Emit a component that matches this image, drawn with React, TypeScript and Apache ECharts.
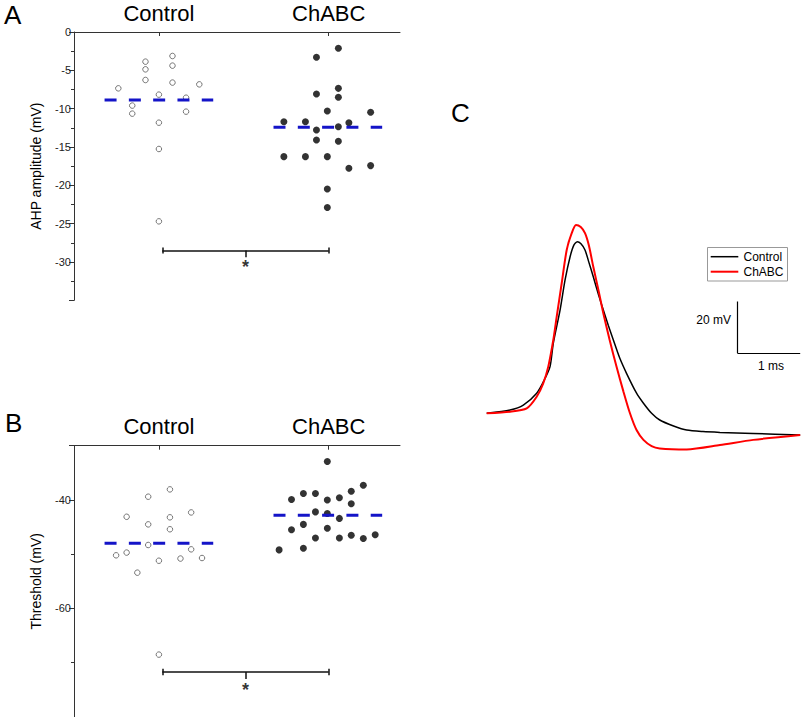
import React, { useEffect, useRef } from 'react';
import * as echarts from 'echarts';

// ---------- data ----------
const groups = ['Control', 'ChABC'];

// Panel A: AHP amplitude (mV), [jittered x position, value]
const ahpControl = [
  [0.761, -7.35], [0.843, -9.6], [0.843, -10.65], [0.921, -3.87], [0.921, -4.87], [0.921, -6.26],
  [1.0, -8.17], [1.0, -11.83], [1.0, -15.26], [1.0, -24.7], [1.08, -3.13], [1.08, -4.39],
  [1.08, -6.6], [1.16, -8.57], [1.16, -10.39], [1.238, -6.83],
];
const ahpChABC = [
  [1.736, -11.7], [1.736, -16.26], [1.863, -11.7], [1.863, -16.26], [1.928, -3.3], [1.928, -8.09],
  [1.928, -12.78], [1.928, -14.09], [1.992, -10.3], [1.992, -16.26], [1.992, -20.48], [1.992, -22.9],
  [2.057, -2.13], [2.057, -7.35], [2.057, -8.52], [2.057, -12.35], [2.057, -14.26], [2.119, -11.83],
  [2.119, -17.78], [2.247, -10.48], [2.247, -17.43],
];
const ahpMeans = [-8.87, -12.43];

// Panel B: Threshold (mV)
const thrControl = [
  [0.748, -50.2], [0.81, -43.1], [0.81, -49.7], [0.873, -53.4], [0.937, -39.4], [0.937, -44.5],
  [0.937, -48.3], [1.0, -51.2], [1.0, -68.5], [1.065, -38.05], [1.065, -43.2], [1.065, -45.4],
  [1.127, -50.8], [1.19, -42.3], [1.19, -49.1], [1.254, -50.7],
];
const thrChABC = [
  [1.708, -49.2], [1.781, -39.9], [1.781, -45.5], [1.851, -38.8], [1.851, -44.5], [1.851, -48.9],
  [1.922, -38.8], [1.922, -42.2], [1.922, -47.0], [1.992, -32.9], [1.992, -40.0], [1.992, -42.5],
  [1.992, -45.2], [2.063, -39.6], [2.063, -43.4], [2.063, -47.0], [2.133, -38.4], [2.133, -40.7],
  [2.133, -46.5], [2.204, -37.3], [2.204, -47.1], [2.274, -46.4],
];
const thrMeans = [-48.0, -42.8];

// significance brackets
const bracketX = [1.02, 2.0];
const bracketMidX = 1.51;
const bracketYA = -28.5;
const bracketYB = -71.7;
const starYA = -30.6;
const starYB = -75.1;

// Panel C: action potential traces, time (ms) and membrane potential (mV)
const ctrlTrace = [
  [0, -65], [0.372, -63.7], [0.584, -61.8], [0.797, -57.2], [0.92, -52.0], [1.01, -46.9],
  [1.062, -37.9], [1.17, -25], [1.25, -13.3], [1.33, -4.3], [1.39, 0.2], [1.445, 1.5],
  [1.5, 0.8], [1.568, -1.7], [1.63, -6.5], [1.70, -12.1], [1.78, -18.8], [1.86, -25],
  [1.94, -31.0], [2.02, -36.6], [2.12, -43.5], [2.23, -49.5], [2.39, -57.2], [2.50, -61.1],
  [2.63, -65.0], [2.76, -67.6], [2.98, -69.9], [3.19, -71.5], [3.45, -72.1], [3.72, -72.4],
  [4.25, -72.8], [5.0, -73.4],
];
const chabcTrace = [
  [0, -65], [0.372, -64.4], [0.638, -63.1], [0.797, -58.6], [0.9, -53.5], [0.982, -46.9],
  [1.062, -36.6], [1.116, -27.6], [1.196, -14.6], [1.276, -1.7], [1.356, 4.8], [1.424, 8.0],
  [1.5, 7.2], [1.568, 4.8], [1.63, 0.0], [1.70, -8.2], [1.78, -17.0], [1.86, -26.2],
  [1.96, -36.5], [2.07, -46.9], [2.18, -56.5], [2.285, -65], [2.39, -71.5], [2.50, -75.3],
  [2.63, -77.7], [2.76, -78.6], [3.19, -79.0], [3.72, -77.3], [4.25, -75.3], [5.0, -73.4],
];
// scale bar: 20 mV vertical, 1 ms horizontal
const scaleOrigin = [4.0, -41.7];
const scaleMv = 20;
const scaleMs = 1;

const FONT = 'Liberation Sans, Arial, sans-serif';
const AXIS_COLOR = '#333';
const DASH_BLUE = '#1414c8';

function meanLine(center: number, value: number) {
  return [[center - 0.32, value], [center + 0.32, value]];
}

function bracketSegments(y: number, cap: number, drop: number) {
  return [
    { coords: [[bracketX[0], y], [bracketX[1], y]] },
    { coords: [[bracketX[0], y + cap], [bracketX[0], y - cap]] },
    { coords: [[bracketX[1], y + cap], [bracketX[1], y - cap]] },
    { coords: [[bracketMidX, y], [bracketMidX, y - drop]] },
  ];
}

function topAxis(gridIndex: number) {
  return {
    type: 'value', gridIndex, position: 'top', min: 0.5, max: 2.42,
    axisLine: { show: true, onZero: false, lineStyle: { color: AXIS_COLOR, width: 1 } },
    axisTick: { show: true, inside: true, length: 4, customValues: [1, 2], lineStyle: { color: AXIS_COLOR } },
    axisLabel: {
      show: true, customValues: [1, 2], formatter: (v: number) => groups[Math.round(v) - 1] || '',
      fontSize: 22, color: '#000', margin: 8, fontFamily: FONT,
    },
    splitLine: { show: false },
  };
}

function leftAxis(gridIndex: number, min: number, max: number, interval: number, name: string, hideMax: boolean) {
  return {
    type: 'value', gridIndex, min, max, interval,
    name, nameLocation: 'middle', nameGap: 31,
    nameTextStyle: { fontSize: 14, color: '#000', fontFamily: FONT },
    axisLine: { show: true, onZero: false, lineStyle: { color: AXIS_COLOR, width: 1 } },
    axisTick: { show: true, length: 5, lineStyle: { color: AXIS_COLOR } },
    minorTick: { show: true, splitNumber: 2, length: 3, lineStyle: { color: AXIS_COLOR } },
    axisLabel: {
      fontSize: 11, color: '#222', margin: 3, fontFamily: FONT,
      showMaxLabel: !hideMax,
      formatter: (v: number) => (v === min || (hideMax && v === max) ? '' : String(v)),
    },
    splitLine: { show: false },
  };
}

function panelSeries(idx: number, ctrl: number[][], chabc: number[][], means: number[],
  bracketY: number, cap: number, drop: number, starY: number) {
  return [
    {
      type: 'scatter', name: 'pts-ctrl-' + idx, xAxisIndex: idx, yAxisIndex: idx, data: ctrl,
      symbol: 'circle', symbolSize: 5.5,
      itemStyle: { color: '#fff', borderColor: '#555', borderWidth: 1 }, z: 3,
    },
    {
      type: 'scatter', name: 'pts-chabc-' + idx, xAxisIndex: idx, yAxisIndex: idx, data: chabc,
      symbol: 'circle', symbolSize: 7, itemStyle: { color: '#000' }, z: 3,
    },
    {
      type: 'line', name: 'mean-ctrl-' + idx, xAxisIndex: idx, yAxisIndex: idx,
      data: meanLine(1, means[0]), symbol: 'none',
      lineStyle: { color: DASH_BLUE, width: 3, type: [12, 12.3] }, z: 4,
    },
    {
      type: 'line', name: 'mean-chabc-' + idx, xAxisIndex: idx, yAxisIndex: idx,
      data: meanLine(1.995, means[1]), symbol: 'none',
      lineStyle: { color: DASH_BLUE, width: 3, type: [12, 12.3] }, z: 4,
    },
    {
      type: 'lines', coordinateSystem: 'cartesian2d', xAxisIndex: idx, yAxisIndex: idx,
      data: bracketSegments(bracketY, cap, drop),
      lineStyle: { color: '#111', width: 1.5, opacity: 1 }, z: 4,
    },
    {
      type: 'scatter', name: 'star-' + idx, xAxisIndex: idx, yAxisIndex: idx,
      data: [[bracketMidX, starY]], symbolSize: 1, itemStyle: { color: 'rgba(0,0,0,0)' },
      label: { show: true, position: 'inside', formatter: '*', fontSize: 18, fontWeight: 'bold', color: '#000', fontFamily: FONT },
      z: 5,
    },
  ];
}

export default function App() {
  const ref = useRef<HTMLDivElement>(null);

  useEffect(() => {
    if (!ref.current) return;
    const chart = echarts.init(ref.current, null, { renderer: 'svg' });
    const option: any = {
      animation: false,
      textStyle: { fontFamily: FONT },
      grid: [
        { left: 74, top: 32, width: 326, height: 268.3 },
        { left: 74, top: 445.7, width: 326, height: 274 },
        { left: 486.7, top: 206.9, width: 313.5, height: 258 },
      ],
      xAxis: [
        topAxis(0),
        topAxis(1),
        { type: 'value', gridIndex: 2, min: 0, max: 5, show: false },
      ],
      yAxis: [
        leftAxis(0, -35, 0, 5, 'AHP amplitude (mV)', false),
        leftAxis(1, -80, -30, 20, 'Threshold (mV)', true),
        { type: 'value', gridIndex: 2, min: -85, max: 15, show: false },
      ],
      series: [
        ...panelSeries(0, ahpControl, ahpChABC, ahpMeans, bracketYA, 0.4, 0.9, starYA),
        ...panelSeries(1, thrControl, thrChABC, thrMeans, bracketYB, 0.6, 1.3, starYB),
        {
          type: 'line', name: 'Control', xAxisIndex: 2, yAxisIndex: 2, data: ctrlTrace,
          symbol: 'none', smooth: 0.25, lineStyle: { color: '#000', width: 1.5 }, itemStyle: { color: '#000' }, z: 3,
        },
        {
          type: 'line', name: 'ChABC', xAxisIndex: 2, yAxisIndex: 2, data: chabcTrace,
          symbol: 'none', smooth: 0.25, lineStyle: { color: '#ff0000', width: 2 }, itemStyle: { color: '#ff0000' }, z: 4,
        },
        {
          type: 'lines', coordinateSystem: 'cartesian2d', xAxisIndex: 2, yAxisIndex: 2,
          data: [
            { coords: [scaleOrigin, [scaleOrigin[0], scaleOrigin[1] + scaleMv]] },
            { coords: [scaleOrigin, [scaleOrigin[0] + scaleMs, scaleOrigin[1]]] },
          ],
          lineStyle: { color: '#000', width: 1.2, opacity: 1 }, z: 4,
        },
      ],
      graphic: [
        { type: 'text', x: 4, y: 15, style: { text: 'A', fontSize: 26, fontFamily: FONT, fill: '#000', verticalAlign: 'middle' } },
        { type: 'text', x: 5, y: 423.3, style: { text: 'B', fontSize: 26, fontFamily: FONT, fill: '#000', verticalAlign: 'middle' } },
        { type: 'text', x: 451, y: 113, style: { text: 'C', fontSize: 26, fontFamily: FONT, fill: '#000', verticalAlign: 'middle' } },
        { type: 'text', x: 731, y: 320, style: { text: '20 mV', fontSize: 12, fontFamily: FONT, fill: '#000', align: 'right', verticalAlign: 'middle' } },
        { type: 'text', x: 771, y: 366, style: { text: '1 ms', fontSize: 12, fontFamily: FONT, fill: '#000', align: 'center', verticalAlign: 'middle' } },
        // legend box
        { type: 'rect', shape: { x: 707.5, y: 247.5, width: 80, height: 33.5 }, style: { fill: '#fff', stroke: '#999', lineWidth: 1 }, z: 10 },
        { type: 'line', shape: { x1: 710.7, y1: 256.7, x2: 738.3, y2: 256.7 }, style: { stroke: '#000', lineWidth: 1.5 }, z: 11 },
        { type: 'line', shape: { x1: 710.7, y1: 271.7, x2: 738.3, y2: 271.7 }, style: { stroke: '#ff0000', lineWidth: 2 }, z: 11 },
        { type: 'text', x: 743.5, y: 257, style: { text: 'Control', fontSize: 12, fontFamily: FONT, fill: '#000', verticalAlign: 'middle' }, z: 11 },
        { type: 'text', x: 743.5, y: 272, style: { text: 'ChABC', fontSize: 12, fontFamily: FONT, fill: '#000', verticalAlign: 'middle' }, z: 11 },
      ],
    };
    chart.setOption(option);
    return () => chart.dispose();
  }, []);

  return (
    <div
      ref={ref}
      style={{ position: 'fixed', left: 0, top: 0, width: 805, height: 717, background: '#fff' }}
    />
  );
}
